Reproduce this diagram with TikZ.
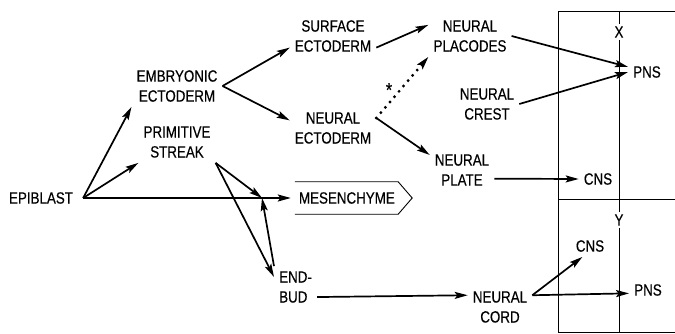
\documentclass[tikz,border=0pt]{standalone}
\usepackage{fontspec}
\setmainfont{Liberation Sans}[FakeStretch=0.82, FakeBold=0.4]
\usetikzlibrary{arrows.meta}

\begin{document}
\begin{tikzpicture}[x=1pt, y=-1pt, font=\fontsize{16.3}{20}\selectfont,
        lbl/.style={align=center, inner sep=5pt},
        arr/.style={line width=1.7pt, -{Stealth[length=13pt, width=7pt, inset=2.5pt]}},
        thin line/.style={line width=0.9pt}]
        \useasboundingbox (0,0) rectangle (675,334);

        \node [lbl, inner xsep=10pt] (epi) at (41,198) {EPIBLAST};
        \node [lbl] (emb) at (177,86) {EMBRYONIC\\ECTODERM};
        \node [lbl] (prim) at (177,142) {PRIMITIVE\\STREAK};
        \node [lbl] (surf) at (333,36) {SURFACE\\ECTODERM};
        \node [lbl] (nect) at (333,128) {NEURAL\\ECTODERM};
        \node [lbl] (plac) at (470,36) {NEURAL\\PLACODES};
        \node [lbl] (crest) at (487,104) {NEURAL\\CREST};
        \node [lbl] (plate) at (462,170) {NEURAL\\PLATE};
        \node [lbl, align=left, anchor=west] (endbud) at (274,287) {END-\\BUD};
        \node [lbl] (cord) at (500,307) {NEURAL\\CORD};
        \node [text width=109pt, align=left, inner xsep=4pt,
        minimum height=32pt] (mes) at (353.5,198) {MESENCHYME};
        \node [font=\fontsize{20}{20}\selectfont] (ast) at (389,90) {*};

        % right hand box
        \node [lbl] (pns1) at (647,72) {PNS};
        \node [lbl] (cns1) at (598,179) {CNS};
        \node [lbl] (cns2) at (590,246) {CNS};
        \node [lbl] (pns2) at (648,290) {PNS};
        \node [inner sep=2pt] (xlbl) at (619,32) {X};
        \node [inner sep=2pt] (ylbl) at (619,220) {Y};
        \coordinate (boxtop) at (619,11);
        \coordinate (boxbot) at (619,332);
        \coordinate (jn) at (262,198);

        \draw [thin line] (675,11) -- (558,11) -- (558,332) -- (675,332);
        \draw [thin line] (558,199) -- (675,199);
        \draw [thin line] (boxtop) -- (xlbl.north) (xlbl.south) -- (ylbl.north)
        (ylbl.south) -- (boxbot);
        \draw [thin line] (mes.north west) -- ([xshift=-14pt]mes.north east)
        -- (mes.east) -- ([xshift=-14pt]mes.south east) -- (mes.south west);

        \draw [arr] (epi.east) -- (emb.south west);
        \draw [arr] (epi.east) -- (prim.south west);
        \draw [arr, shorten >=4pt] (epi.east) -- (mes.west);
        \draw [arr] (prim.south east) -- (jn);
        \draw [arr] (prim.south east) -- (endbud.155);
        \draw [arr] (endbud.north west) -- (jn);
        \draw [arr] (endbud.335) -- (cord.160);
        \draw [arr] (emb.east) -- (surf.195);
        \draw [arr] (emb.east) -- (nect.170);
        \draw [arr] (surf.345) -- (plac.165);
        \draw [arr, line width=3.2pt, line cap=round, dash pattern=on 0pt off 7pt]
        (nect.13) -- (plac.south west);
        \draw [arr] (nect.13) -- (plate.155);
        \draw [arr] (plac.east) -- (pns1.165);
        \draw [arr] (crest.east) -- (pns1.west);
        \draw [arr] (plate.345) -- (cns1.west);
        \draw [arr] (cord.20) -- (cns2.235);
        \draw [arr] (cord.20) -- (pns2.190);
\end{tikzpicture}
\end{document}
